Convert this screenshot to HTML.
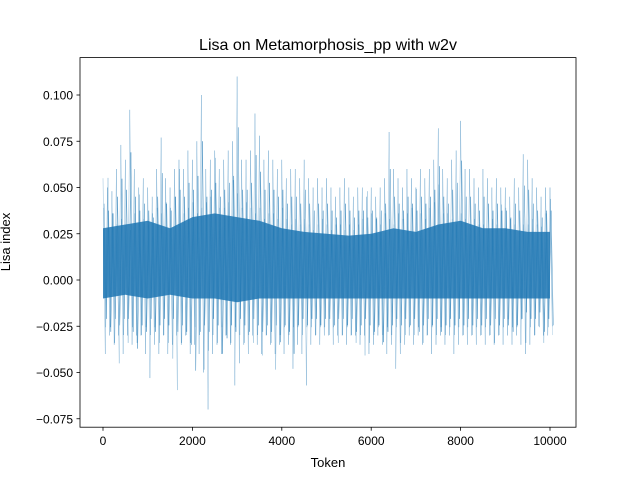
<!DOCTYPE html>
<html><head><meta charset="utf-8">
<style>
body{margin:0;background:#fff;}
svg{display:block;font-family:"Liberation Sans","DejaVu Sans",sans-serif;}
</style></head>
<body>
<svg id="chart" width="640" height="480" viewBox="0 0 640 480">
<rect width="640" height="480" fill="#fff"/>
<g id="plot"></g>
<g id="axes"></g>
<text x="328" y="50" text-anchor="middle" font-size="16" fill="#000">Lisa on Metamorphosis_pp with w2v</text>
<text x="328" y="467" text-anchor="middle" font-size="13" fill="#000">Token</text>
<text x="10" y="242" text-anchor="middle" font-size="13" fill="#000" transform="rotate(-90 10 242)">Lisa index</text>
</svg>
<script>
const binStep = 100;
const hiVals = [0.055,0.05,0.048,0.06,0.073,0.065,0.092,0.06,0.05,0.055,
0.05,0.045,0.06,0.077,0.055,0.05,0.06,0.065,0.06,0.07,
0.065,0.075,0.1,0.06,0.065,0.07,0.06,0.065,0.07,0.075,
0.11,0.065,0.065,0.07,0.09,0.078,0.065,0.07,0.065,0.06,
0.065,0.055,0.06,0.06,0.055,0.065,0.055,0.05,0.055,0.05,
0.055,0.05,0.045,0.05,0.055,0.05,0.045,0.05,0.05,0.045,
0.05,0.045,0.05,0.055,0.08,0.06,0.055,0.05,0.06,0.055,
0.05,0.06,0.055,0.06,0.065,0.082,0.06,0.055,0.065,0.07,
0.086,0.06,0.06,0.055,0.05,0.06,0.055,0.05,0.055,0.05,
0.05,0.045,0.055,0.05,0.068,0.065,0.055,0.05,0.045,0.05,0.05];
const loVals = [-0.04,-0.03,-0.035,-0.03,-0.04,-0.03,-0.035,-0.03,-0.03,-0.04,
-0.053,-0.035,-0.04,-0.03,-0.04,-0.035,-0.03,-0.035,-0.03,-0.04,
-0.035,-0.04,-0.05,-0.07,-0.04,-0.035,-0.04,-0.03,-0.035,-0.057,
-0.045,-0.035,-0.04,-0.03,-0.035,-0.04,-0.03,-0.035,-0.04,-0.035,
-0.04,-0.035,-0.048,-0.035,-0.04,-0.057,-0.035,-0.03,-0.035,-0.03,
-0.03,-0.035,-0.03,-0.03,-0.035,-0.03,-0.03,-0.035,-0.03,-0.04,
-0.035,-0.03,-0.035,-0.04,-0.035,-0.048,-0.04,-0.035,-0.03,-0.035,
-0.03,-0.035,-0.03,-0.04,-0.035,-0.03,-0.035,-0.03,-0.04,-0.035,
-0.03,-0.035,-0.03,-0.035,-0.03,-0.035,-0.03,-0.035,-0.03,-0.035,
-0.03,-0.035,-0.03,-0.035,-0.04,-0.035,-0.03,-0.025,-0.03,-0.03,-0.025];
const coreStep = 500;
const coreHi = [0.028,0.03,0.032,0.028,0.034,0.036,0.034,0.032,0.028,0.026,0.025,0.024,0.025,0.028,0.026,0.03,0.032,0.028,0.028,0.026,0.026];
const coreLo = [-0.01,-0.008,-0.01,-0.008,-0.01,-0.01,-0.012,-0.01,-0.01,-0.01,-0.01,-0.01,-0.01,-0.01,-0.01,-0.01,-0.01,-0.01,-0.01,-0.01,-0.01];
const xTicks = [0,2000,4000,6000,8000,10000];
const yTicks = [-0.075,-0.05,-0.025,0,0.025,0.05,0.075,0.1];

const NS="http://www.w3.org/2000/svg";
const X = t => 103 + t*0.0447;
const Y = v => 280 - v*1850;
const plot=document.getElementById('plot'), axes=document.getElementById('axes');
function mk(tag, attrs, parent){const e=document.createElementNS(NS,tag);for(const k in attrs)e.setAttribute(k,attrs[k]);parent.appendChild(e);return e;}

let pts=[];
coreHi.forEach((v,i)=>pts.push(X(i*coreStep)+','+Y(v)));
for(let i=coreLo.length-1;i>=0;i--)pts.push(X(i*coreStep)+','+Y(coreLo[i]));
const band=mk('polygon',{points:pts.join(' '),fill:'#1f77b4','fill-opacity':0.85},plot);



const n=hiVals.length;
let zz=[];
hiVals.forEach((h,i)=>{zz.push(X(i*binStep)+','+Y(h));zz.push(X(i*binStep+50)+','+Y(loVals[i]));});
const line=mk('polyline',{points:zz.join(' '),fill:'none',stroke:'#1f77b4','stroke-width':0.4,'stroke-opacity':0.6},plot);



let zz2=[];
hiVals.forEach((h,i)=>{zz2.push(X(i*binStep+25)+','+Y(h*0.75));zz2.push(X(i*binStep+75)+','+Y(loVals[(i+3)%n]*0.7));});
const line2=mk('polyline',{points:zz2.join(' '),fill:'none',stroke:'#1f77b4','stroke-width':0.5,'stroke-opacity':0.7},plot);



let zz3=[];
hiVals.forEach((h,i)=>{zz3.push(X(i*binStep+12)+','+Y(hiVals[(i+5)%n]*0.6));zz3.push(X(i*binStep+62)+','+Y(loVals[(i+7)%n]*0.85));});
const line3=mk('polyline',{points:zz3.join(' '),fill:'none',stroke:'#1f77b4','stroke-width':0.4,'stroke-opacity':0.5},plot);



const fr=mk('rect',{x:80,y:57.6,width:496,height:369.6,fill:'none',stroke:'#000','stroke-width':0.8},axes);


xTicks.forEach(t=>{
  const tk=mk('line',{x1:X(t),x2:X(t),y1:427.2,y2:430.7,stroke:'#000','stroke-width':0.8},axes);
  
  
  const lb=mk('text',{x:X(t),y:445,'text-anchor':'middle','font-size':12},axes);
  lb.textContent=t;
  
  
});
yTicks.forEach(v=>{
  const tk=mk('line',{x1:76.5,x2:80,y1:Y(v),y2:Y(v),stroke:'#000','stroke-width':0.8},axes);
  
  
  const lb=mk('text',{x:73,y:Y(v)+4.5,'text-anchor':'end','font-size':12},axes);
  lb.textContent=(v<0?'\u2212':'')+Math.abs(v).toFixed(3);
  
  
});
</script>
</body></html>
